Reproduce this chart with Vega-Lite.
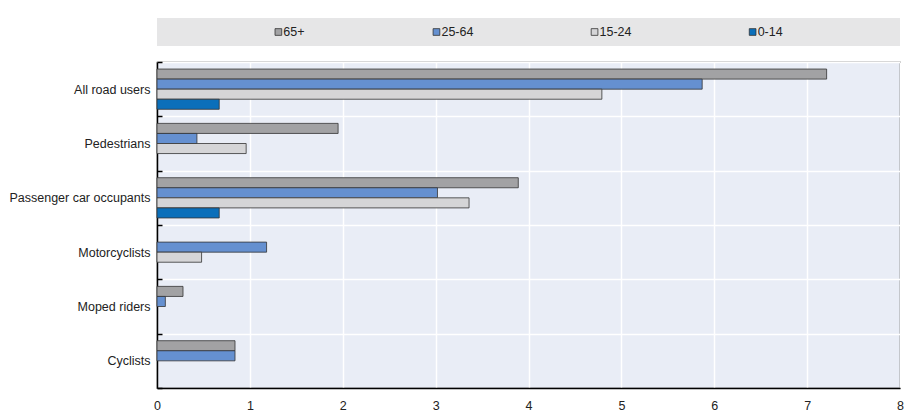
{
  "$schema": "https://vega.github.io/schema/vega-lite/v6.json",
  "padding": {"left": 8, "top": 18, "right": 2, "bottom": 3},
  "background": "white",
  "bounds": "flush",
  "spacing": 16,
  "config": {
    "font": "Liberation Sans Narrow, Arial Narrow, Liberation Sans, sans-serif",
    "text": {"font": "Liberation Sans Narrow, Arial Narrow, Liberation Sans, sans-serif"}
  },
  "data": {
    "values": [
      {"category": "All road users", "age": "65+", "value": 7.21},
      {"category": "All road users", "age": "25-64", "value": 5.87},
      {"category": "All road users", "age": "15-24", "value": 4.79},
      {"category": "All road users", "age": "0-14", "value": 0.67},
      {"category": "Pedestrians", "age": "65+", "value": 1.95},
      {"category": "Pedestrians", "age": "25-64", "value": 0.43},
      {"category": "Pedestrians", "age": "15-24", "value": 0.96},
      {"category": "Passenger car occupants", "age": "65+", "value": 3.89},
      {"category": "Passenger car occupants", "age": "25-64", "value": 3.02},
      {"category": "Passenger car occupants", "age": "15-24", "value": 3.36},
      {"category": "Passenger car occupants", "age": "0-14", "value": 0.67},
      {"category": "Motorcyclists", "age": "25-64", "value": 1.18},
      {"category": "Motorcyclists", "age": "15-24", "value": 0.48},
      {"category": "Moped riders", "age": "65+", "value": 0.28},
      {"category": "Moped riders", "age": "25-64", "value": 0.09},
      {"category": "Cyclists", "age": "65+", "value": 0.84},
      {"category": "Cyclists", "age": "25-64", "value": 0.84}
    ]
  },
  "vconcat": [
    {
      "width": 743,
      "height": 28,
      "data": {"values": [{"age": "65+"}, {"age": "25-64"}, {"age": "15-24"}, {"age": "0-14"}]},
      "view": {"fill": "#e6e6e7", "stroke": null},
      "encoding": {
        "x": {"field": "age", "type": "nominal", "sort": ["65+", "25-64", "15-24", "0-14"],
              "scale": {"type": "point", "padding": 0.85}, "axis": null}
      },
      "layer": [
        {
          "mark": {"type": "point", "shape": "square", "filled": true, "size": 45, "xOffset": -13, "stroke": "#333", "strokeWidth": 0.8, "opacity": 1},
          "encoding": {
            "color": {"field": "age", "type": "nominal", "legend": null,
                      "scale": {"domain": ["65+", "25-64", "15-24", "0-14"], "range": ["#a2a2a4", "#6590d0", "#d5d5d7", "#0b6fba"]}}
          }
        },
        {
          "mark": {"type": "text", "align": "left", "baseline": "middle", "dx": -8, "fontSize": 12.5, "color": "#222"},
          "encoding": {"text": {"field": "age"}}
        }
      ]
    },
    {
      "width": 743,
      "height": 326,
      "view": {"fill": "#e9edf6", "stroke": "#333", "strokeWidth": 1.2},
      "mark": {"type": "bar", "stroke": "#333", "strokeWidth": 0.8},
      "encoding": {
        "y": {
          "field": "category", "type": "nominal",
          "sort": ["All road users", "Pedestrians", "Passenger car occupants", "Motorcyclists", "Moped riders", "Cyclists"],
          "scale": {"paddingInner": 0, "paddingOuter": 0},
          "axis": {"title": null, "tickBand": "extent", "grid": true, "gridColor": "white", "gridWidth": 1.5,
                   "domainColor": "black", "domainWidth": 1.5, "tickColor": "black", "tickWidth": 1.5, "tickSize": -5,
                   "labelPadding": 12, "labelFontSize": 12.5, "labelColor": "#222", "labelLimit": 200}
        },
        "yOffset": {
          "field": "age", "type": "nominal", "sort": ["65+", "25-64", "15-24", "0-14"],
          "scale": {"paddingInner": 0, "paddingOuter": 0.7}
        },
        "x": {
          "field": "value", "type": "quantitative",
          "scale": {"domain": [0, 8], "nice": false},
          "axis": {"title": null, "values": [0, 1, 2, 3, 4, 5, 6, 7, 8], "grid": true, "gridColor": "white", "gridWidth": 1.5,
                   "domainColor": "black", "domainWidth": 1.5, "ticks": false, "labelPadding": 11,
                   "labelFontSize": 12.5, "labelColor": "#222", "labelFlush": false}
        },
        "color": {"field": "age", "type": "nominal", "legend": null,
                  "scale": {"domain": ["65+", "25-64", "15-24", "0-14"], "range": ["#a2a2a4", "#6590d0", "#d5d5d7", "#0b6fba"]}}
      }
    }
  ]
}
